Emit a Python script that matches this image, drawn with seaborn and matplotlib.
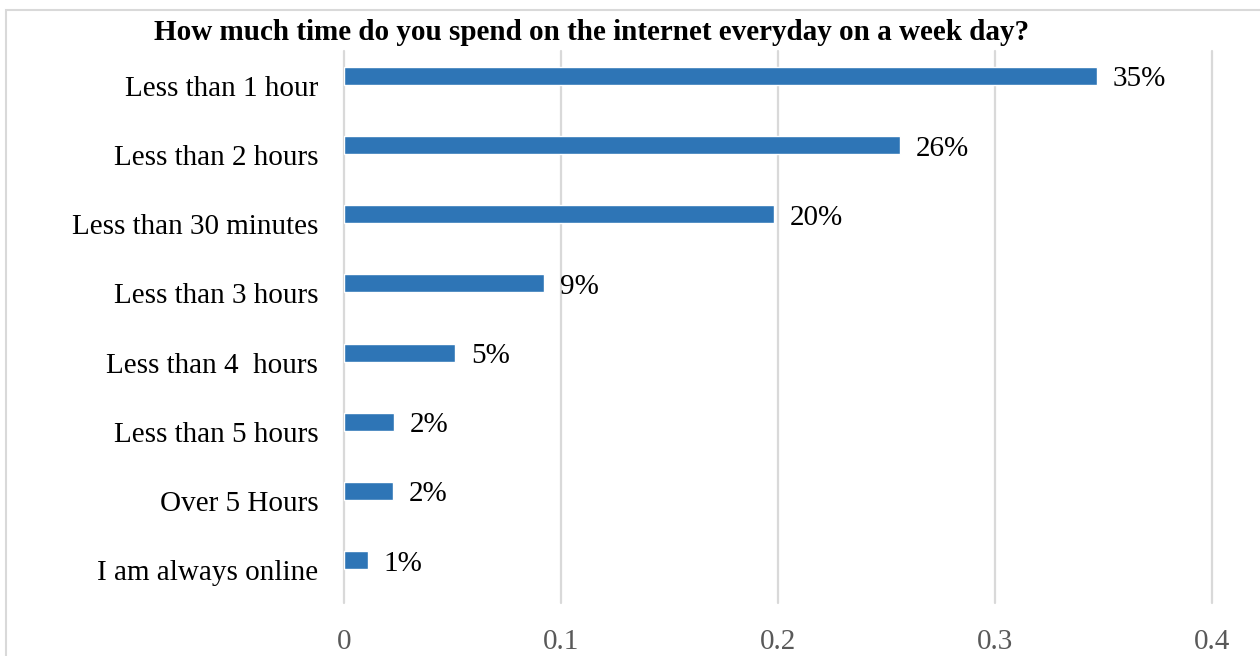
import matplotlib
matplotlib.use("Agg")
import matplotlib.pyplot as plt
import matplotlib.transforms as mtransforms
import seaborn as sns
import pandas as pd
from matplotlib.patches import Rectangle

categories = [
    "Less than 1 hour",
    "Less than 2 hours",
    "Less than 30 minutes",
    "Less than 3 hours",
    "Less than 4  hours",
    "Less than 5 hours",
    "Over 5 Hours",
    "I am always online",
]
shares = [0.347, 0.256, 0.198, 0.092, 0.051, 0.023, 0.0226, 0.011]
x_ticks = [0, 0.1, 0.2, 0.3, 0.4]
x_tick_labels = ["0", "0.1", "0.2", "0.3", "0.4"]
title = "How much time do you spend on the internet everyday on a week day?"

df = pd.DataFrame({"category": categories, "share": shares})

sns.set_theme(style="white")
plt.rcParams["font.family"] = ["Liberation Serif", "DejaVu Serif"]

W, H = 1260, 656
fig = plt.figure(figsize=(W / 100, H / 100), dpi=100)
ax = fig.add_axes([344 / W, 1 - 603 / H, (1212 - 344) / W, (603 - 51) / H])

sns.barplot(data=df, y="category", x="share", orient="h", color="#2E75B6",
            saturation=1, width=0.26, ax=ax, zorder=3)

ax.set_xlim(0, 0.4)
ax.set_ylim(7.62, -0.36)
ax.set_xticks(x_ticks)
ax.set_xticklabels(x_tick_labels, fontsize=21, color="#595959")
ax.tick_params(axis="x", length=0, pad=19)
ax.tick_params(axis="y", length=0, pad=18.5, labelsize=21, labelcolor="black")
ax.set_xlabel("")
ax.set_ylabel("")
for s in ax.spines.values():
    s.set_visible(False)
for xv in x_ticks:
    ax.axvline(xv, color="#D9D9D9", lw=1.6, zorder=1, clip_on=False)

# category labels sit slightly below the bar centres
shift_down = mtransforms.ScaledTranslation(0, -10 / 100, fig.dpi_scale_trans)
for lbl in ax.get_yticklabels():
    lbl.set_transform(lbl.get_transform() + shift_down)

val_shift = mtransforms.ScaledTranslation(0, -3.5 / 100, fig.dpi_scale_trans)
for i, v in enumerate(shares):
    ax.text(v + 0.0074, i, f"{round(v * 100):.0f}%", va="center", ha="left",
            fontsize=21, color="black", transform=ax.transData + val_shift)

fig.text(592 / W, 1 - 32 / H, title, ha="center", va="center",
         fontsize=21, fontweight="bold", color="black")

fig.patches.append(Rectangle((6 / W, -0.1), 0.2 + (1260 - 6) / W, 1 - 10 / H + 0.1,
                             transform=fig.transFigure, fill=False,
                             edgecolor="#D9D9D9", lw=1.5))

fig.savefig("out.png", dpi=100, facecolor="white")
